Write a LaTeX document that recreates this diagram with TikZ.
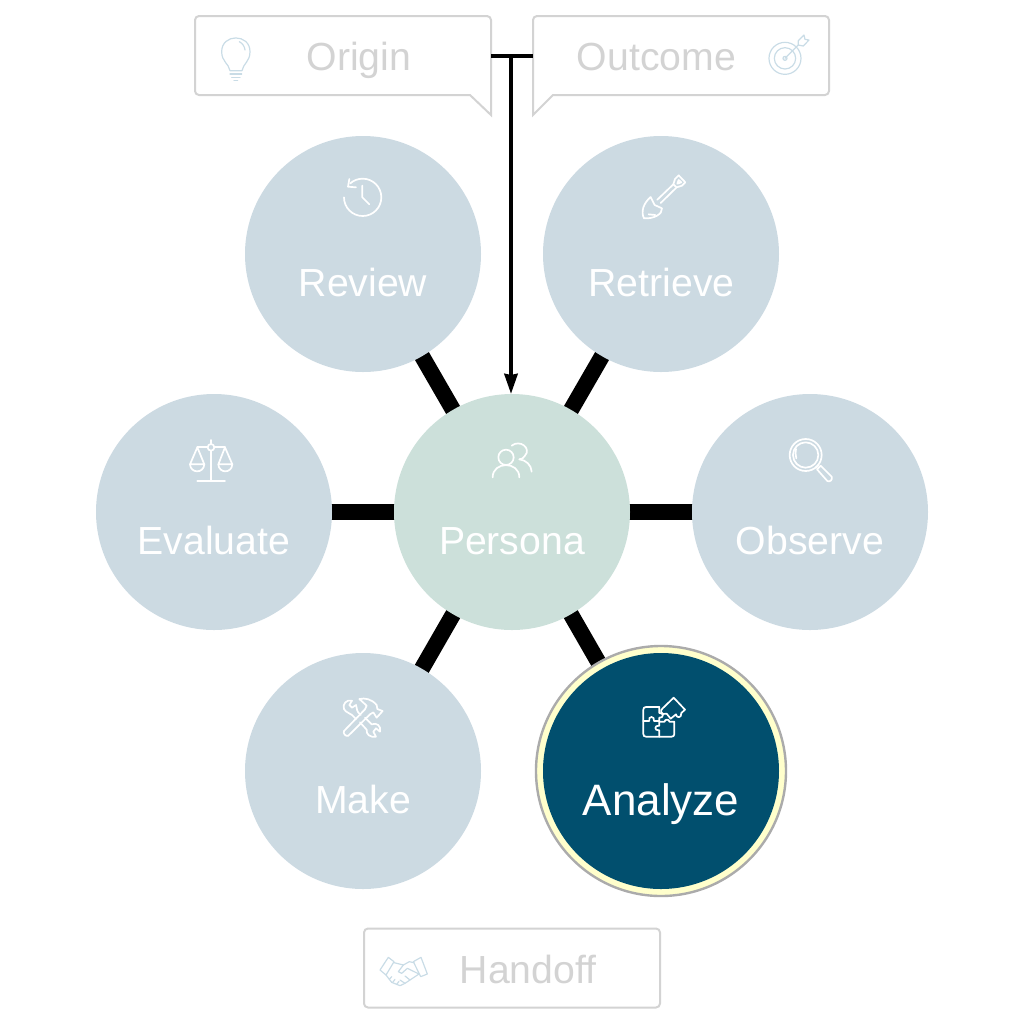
\documentclass[tikz,border=0pt]{standalone}
\usepackage{fontspec}
\setmainfont{Liberation Sans}
\usetikzlibrary{arrows.meta,backgrounds}
\definecolor{petalblue}{HTML}{CCDAE2}
\definecolor{personagreen}{HTML}{CCE0DA}
\definecolor{analyzeblue}{HTML}{014F6E}
\definecolor{ringyellow}{HTML}{FFFFCC}
\definecolor{ringgray}{HTML}{ABABAB}
\definecolor{boxgray}{HTML}{D3D3D3}
\definecolor{iconblue}{HTML}{C9DCE6}
\tikzset{
  petal/.style={circle,fill=petalblue,minimum size=118pt,inner sep=0pt,outer sep=0pt},
  petaltext/.style={anchor=base,text=white,inner sep=0pt,font=\fontsize{19.6}{20}\selectfont},
  boxframe/.style={minimum width=148pt,minimum height=39.5pt,inner sep=0pt,outer sep=0pt},
  boxtext/.style={anchor=base,text=boxgray,inner sep=0pt,font=\fontsize{19.6}{20}\selectfont},
  boxline/.style={draw=boxgray,line width=1pt},
  spoke/.style={line width=8pt},
  wire/.style={line width=2pt},
  icon/.style={draw=white,line width=0.85pt,line cap=round,line join=round},
  boxicon/.style={draw=iconblue,line width=0.6pt,line cap=round,line join=round}
}
\begin{document}
\begin{tikzpicture}[x=0.5pt,y=-0.5pt]
  \useasboundingbox (0,0) rectangle (1024,1024);
  % circles
  \node[petal,fill=personagreen] (persona) at (512,512) {};
  \node[petal] (review) at (363,254) {};
  \node[petal] (retrieve) at (661,254) {};
  \node[petal] (evaluate) at (214,512) {};
  \node[petal] (observe) at (810,512) {};
  \node[petal] (make) at (363,771) {};
  \node[circle,draw=ringgray,fill=ringyellow,line width=1.2pt,minimum size=125pt,inner sep=0pt] (analyzering) at (661,771) {};
  \node[petal,fill=analyzeblue] (analyze) at (661,771) {};
  % spokes
  \begin{scope}[on background layer]
    \draw[spoke] (persona.center)--(review.center);
    \draw[spoke] (persona.center)--(retrieve.center);
    \draw[spoke] (persona.center)--(evaluate.center);
    \draw[spoke] (persona.center)--(observe.center);
    \draw[spoke] (persona.center)--(make.center);
    \draw[spoke] (persona.center)--(analyzering.center);
  \end{scope}
  % labels
  \node[petaltext] (personatext) at (512,554) {Persona};
  \node[petaltext] (reviewtext) at (363,296) {Review};
  \node[petaltext] (retrievetext) at (661.5,296) {Retrieve};
  \node[petaltext] (evaluatetext) at (214,554) {Evaluate};
  \node[petaltext] (observetext) at (810,554) {Observe};
  \node[petaltext] (maketext) at (363,813) {Make};
  \node[petaltext,font=\fontsize{22}{23}\selectfont] (analyzetext) at (661,815) {Analyze};
  % boxes
  \node[boxframe] (origin) at (343,55.5) {};
  \node[boxframe] (outcome) at (681,55.5) {};
  \node[boxframe] (handoff) at (512,968) {};
  \draw[boxline] (470,95) [rounded corners=2pt] --(origin.south west)--(origin.north west)--(origin.north east)--(origin.south east) [sharp corners] --(491,115)--cycle;
  \draw[boxline] (553,95) [rounded corners=2pt] --(outcome.south east)--(outcome.north east)--(outcome.north west)--(outcome.south west) [sharp corners] --(533,115)--cycle;
  \draw[boxline,rounded corners=2pt] (handoff.north west) rectangle (handoff.south east);
  \node[boxtext] (origintext) at (359,70) {Origin};
  \node[boxtext] (outcometext) at (656.5,70) {Outcome};
  \node[boxtext] (handofftext) at (528,983) {Handoff};
  % arrow
  \coordinate (tee) at (511,55.5);
  \draw[wire] (origin.east)--(outcome.west);
  \draw[wire,-{Stealth[length=10pt,width=6.5pt,inset=0.5pt]}] (tee)--(tee |- persona.north);
  % clock
  \begin{scope}[shift={(320,165)},scale=1/3,icon]
    \draw (72,97) arc[start angle=180,end angle=-132,radius=56];
    \draw (88,42)--(84,65)--(108,67);
    \draw (127,62)--(127,97)--(148,118);
  \end{scope}
  % shovel
  \begin{scope}[shift={(620,165)},scale=1/3,icon]
    \draw (92,96)--(104,120)--(126,130) (126,130)..controls (128,148) and (100,162)..(72,160)..controls (62,140) and (70,115)..(92,96);
    \draw (112,104)--(160,58) (122,114)--(170,67);
    \draw (160,58)--(165,42)--(176,31)--(196,52)--(186,62)--(170,67)--cycle;
    \draw (176,45)--(184,52)--(172,56)--cycle;
    \draw (86,148)--(106,150);
  \end{scope}
  % scales
  \begin{scope}[shift={(170,425)},scale=1/3,icon]
    \draw (123,67) circle (10);
    \draw (123,45)--(123,57) (123,77)--(123,165) (82,167)--(165,167);
    \draw (82,67)--(113,67) (133,67)--(165,67);
    \draw (60,118)--(82,67)--(103,118)--cycle;
    \draw (60,118)..controls (62,146) and (101,146)..(103,118);
    \draw (145,118)--(165,67)--(187,118)--cycle;
    \draw (145,118)..controls (147,146) and (185,146)..(187,118);
  \end{scope}
  % people
  \begin{scope}[shift={(470,425)},scale=1/3,icon]
    \draw (108,97) circle (23);
    \draw (68,157)..controls (68,108) and (148,108)..(148,157);
    \draw (125,62)..controls (150,42) and (185,70)..(165,92)..controls (160,100) and (155,103)..(148,103);
    \draw (148,103)..controls (168,105) and (184,120)..(185,140);
  \end{scope}
  % magnifier
  \begin{scope}[shift={(770,425)},scale=1/3,icon]
    \draw (107,90) circle (48);
    \draw (107,90) circle (38);
    \draw (78,72)..controls (76,80) and (76,90)..(79,100);
    \draw (137,128)--(145,120);
    \draw (141,133)--(152,122)--(185,155)..controls (188,165) and (180,172)..(172,168)--cycle;
  \end{scope}
  % tools
  \begin{scope}[shift={(320,685)},scale=1/3,icon]
    \draw (72,138)--(135,73) (85,152)--(150,88);
    \draw (72,138)..controls (68,145) and (78,156)..(85,152);
    \draw (135,73)--(140,62)--(118,42)..controls (135,38) and (155,42)..(170,60)--(172,72)--(188,78)--(170,98)--(160,82)--(150,88);
    \draw (96,47)..controls (80,42) and (66,58)..(72,72)..controls (78,84) and (88,82)..(96,90)--(108,102);
    \draw (96,47)--(88,60)--(96,68)--(108,60)..controls (112,72) and (108,78)..(122,90);
    \draw (120,112)--(140,134)..controls (138,148) and (150,158)..(168,155)--(160,140)--(168,130)--(180,140)..controls (184,122) and (170,112)..(155,118)--(135,98);
  \end{scope}
  % puzzle
  \begin{scope}[shift={(620,685)},scale=1/3,icon]
    \draw (118,66)--(78,66)..controls (73,66) and (70,69)..(70,74)--(70,147)..controls (70,152) and (73,155)..(78,155)--(155,155)..controls (160,155) and (163,152)..(163,147)--(163,110)--(148,110)..controls (150,102) and (132,102)..(134,110)--(118,110);
    \draw (118,66)--(118,84)..controls (132,82) and (132,100)..(118,98)--(118,122)..controls (102,120) and (102,138)..(118,136)--(118,155);
    \draw (70,108)--(88,108)..controls (82,92) and (106,92)..(102,108)--(118,108);
    \draw (128,70)--(161,38)--(195,74)--(184,84)..controls (186,100) and (168,100)..(168,88)--(152,101)--(140,86)..controls (124,92) and (118,76)..(128,70);
  \end{scope}
  % bulb
  \begin{scope}[shift={(180,0)},scale=1/3,boxicon]
    \draw (150,212)..controls (146,190) and (125,185)..(125,155)..controls (125,100) and (210,100)..(210,155)..controls (210,185) and (190,190)..(186,212)--cycle;
    \draw (178,125)..controls (188,130) and (194,140)..(195,150);
    \draw (150,222)--(185,222) (155,232)--(180,232) (162,242)--(173,242);
  \end{scope}
  % target
  \begin{scope}[shift={(490,0)},scale=1/3,boxicon]
    \draw (885,175) circle (48);
    \draw (885,175) circle (32);
    \draw (885,175) circle (6);
    \draw (885,175)--(925,135);
    \draw (925,135)--(925,122)--(942,105)--(945,118)--(957,120)--(940,138)--cycle;
  \end{scope}
  % handshake
  \begin{scope}[shift={(350,920)},scale=1/3,boxicon]
    \draw (115,112)--(90,150)--(108,165)--(132,125)--cycle;
    \draw (213,112)--(232,162)--(212,170)--(190,125)--cycle;
    \draw (132,128)--(160,135)--(178,125)--(192,128);
    \draw (160,135)--(145,155)--(155,160)--(172,145)--(207,162);
    \draw (108,165)--(125,187)--(150,197)--(165,190)--(207,162);
    \draw (125,170)--(118,178) (135,178)--(128,187) (147,184)--(140,193);
    \draw (165,168)--(180,180) (150,180)--(165,190);
  \end{scope}
\end{tikzpicture}
\end{document}
